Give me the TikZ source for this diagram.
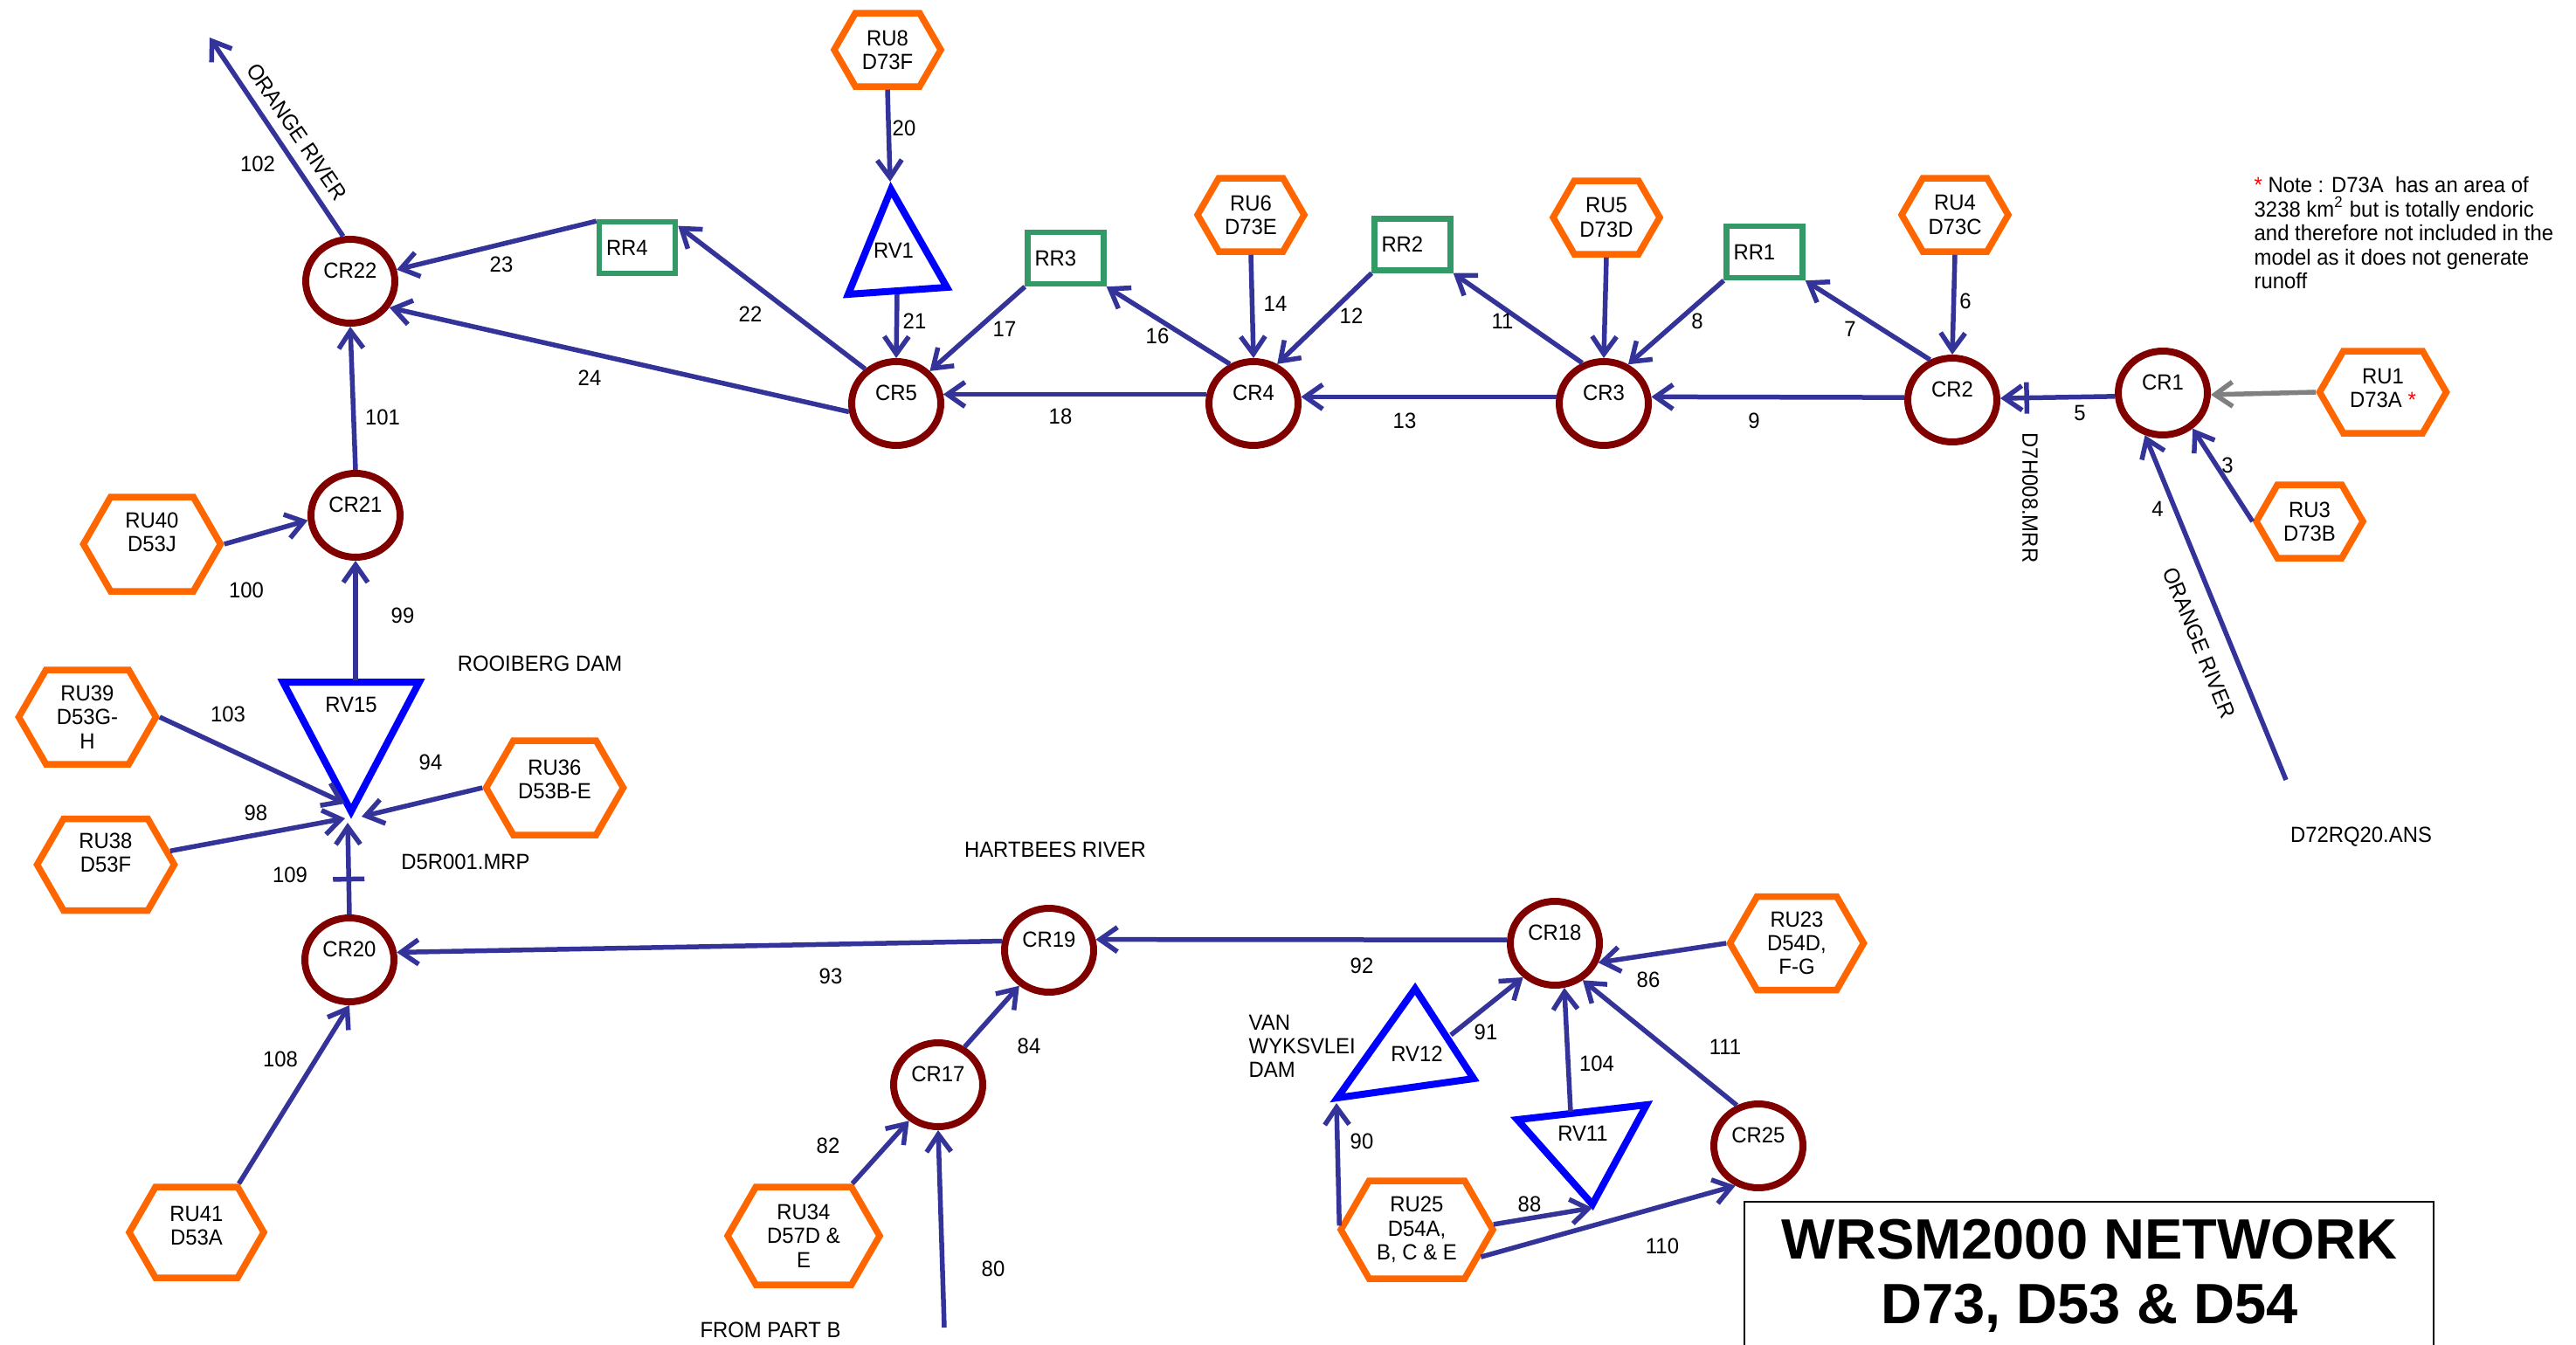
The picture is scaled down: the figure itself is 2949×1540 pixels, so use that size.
\documentclass[tikz,border=0pt]{standalone}
\usepackage{fontspec}
\setmainfont{Liberation Sans}[FakeStretch=0.95]
\newfontfamily\titlefont{Liberation Sans}
\usetikzlibrary{arrows.meta,shapes.symbols,shapes.geometric}
\definecolor{conn}{RGB}{51,51,153}
\definecolor{crred}{RGB}{128,0,0}
\definecolor{hexor}{RGB}{255,102,0}
\definecolor{rrgreen}{RGB}{51,153,102}
\definecolor{rvblue}{RGB}{0,0,255}
\definecolor{grayarr}{RGB}{128,128,128}
\begin{document}
\begin{tikzpicture}[x=0.1mm,y=-0.1mm,
  every node/.style={font=\fontsize{7.15}{7.75}\selectfont, inner sep=0pt},
  crnode/.style={ellipse, draw=crred, line width=0.8mm, minimum width=10.2mm, minimum height=9.6mm, text height=1.8mm, text depth=2.44mm},
  rrbox/.style={rectangle, draw=rrgreen, line width=0.65mm, minimum height=5.9mm, text width=7.1mm, inner xsep=0.8mm, align=left},
  hexa/.style={signal, signal to=east and west, signal pointer angle=120, draw=hexor, line width=0.75mm, align=center, minimum width=12.2mm, minimum height=8.4mm},
  hexbig/.style={hexa, minimum width=15.7mm, minimum height=10.8mm},
  hexwide/.style={hexa, minimum width=17.4mm, minimum height=11.2mm},
  flow/.style={draw=conn, line width=0.55mm, -{Straight Barb[length=2mm,width=2.8mm]}},
  grayflow/.style={flow, draw=grayarr},
  rvtri/.style={draw=rvblue, line width=0.8mm, line join=miter},
  lbl/.style={},
  tick/.style={draw=conn, line width=0.55mm, shape=rectangle, minimum height=3.6mm, minimum width=0pt, inner sep=0pt, outer sep=0pt, sloped}
]
\useasboundingbox (0,0) rectangle (2949,1540);

% ---------- CR nodes ----------
\node[crnode] (cr22) at (401,322) {CR22};
\node[crnode] (cr5)  at (1026,462) {CR5};
\node[crnode] (cr4)  at (1435,462) {CR4};
\node[crnode] (cr3)  at (1836,462) {CR3};
\node[crnode] (cr2)  at (2235,458) {CR2};
\node[crnode] (cr1)  at (2476,450) {CR1};
\node[crnode] (cr21) at (407,590) {CR21};
\node[crnode] (cr20) at (400,1099) {CR20};
\node[crnode] (cr19) at (1201,1088) {CR19};
\node[crnode] (cr17) at (1074,1242) {CR17};
\node[crnode] (cr18) at (1780,1080) {CR18};
\node[crnode] (cr25) at (2013,1312) {CR25};

% ---------- RR boxes ----------
\node[rrbox] (rr4) at (729.5,283.5) {RR4};
\node[rrbox] (rr3) at (1220,295.5) {RR3};
\node[rrbox] (rr2) at (1617,280) {RR2};
\node[rrbox] (rr1) at (2020,288.5) {RR1};

% ---------- RU hexagons ----------
\node[hexa] (ru8) at (1016,57) {RU8\\D73F};
\node[hexa] (ru6) at (1432,246) {RU6\\D73E};
\node[hexa] (ru5) at (1839,249) {RU5\\D73D};
\node[hexa] (ru4) at (2238,246) {RU4\\D73C};
\node[hexa] (ru3) at (2644,597) {RU3\\D73B};
\node[hexa, minimum width=14.5mm, minimum height=9.4mm] (ru1) at (2728,449) {RU1\\D73A {\color{red}*}\\[-5pt]\mbox{}};
\node[hexbig] (ru40) at (174,623) {RU40\\D53J\\\mbox{}};
\node[hexbig] (ru39) at (100,821) {RU39\\D53G-\\H};
\node[hexbig] (ru36) at (635,902) {RU36\\D53B-E\\[-2pt]\mbox{}};
\node[hexbig, minimum height=10.5mm] (ru38) at (121,990) {RU38\\D53F\\\mbox{}};
\node[hexbig, minimum width=15.4mm, minimum height=10.4mm] (ru41) at (225,1411) {RU41\\D53A\\[-3.5pt]\mbox{}};
\node[hexwide] (ru34) at (920,1415) {RU34\\D57D \&\\E};
\node[hexwide] (ru25) at (1622,1408) {RU25\\D54A,\\B, C \& E};
\node[hexbig, minimum width=15.3mm, minimum height=10.7mm] (ru23) at (2057,1080) {RU23\\D54D,\\F-G};

% ---------- RV triangles ----------
\coordinate (rv1a) at (1020,217);
\coordinate (rv1b) at (971,337);
\coordinate (rv1c) at (1084,329);
\draw[rvtri] (rv1a) -- (rv1b) -- (rv1c) -- cycle;
\node (rv1) at (1023,287) {RV1};

\coordinate (rv15a) at (324,781);
\coordinate (rv15b) at (480,781);
\coordinate (rv15c) at (402,929);
\draw[rvtri] (rv15a) -- (rv15b) -- (rv15c) -- cycle;
\node (rv15) at (402,807) {RV15};

\coordinate (rv12a) at (1620,1132);
\coordinate (rv12b) at (1531,1257);
\coordinate (rv12c) at (1687,1235);
\draw[rvtri] (rv12a) -- (rv12b) -- (rv12c) -- cycle;
\node (rv12) at (1622,1207) {RV12};

\coordinate (rv11a) at (1737,1282);
\coordinate (rv11b) at (1885,1265);
\coordinate (rv11c) at (1823,1379);
\draw[rvtri] (rv11a) -- (rv11b) -- (rv11c) -- cycle;
\node (rv11) at (1812,1298) {RV11};

% connector end points on triangles / free ends
\coordinate (rv1tip) at (1019,208);
\coordinate (rv1bot) at (1027,337);
\coordinate (rv15top) at (407,779);
\coordinate (t103) at (395,920);
\coordinate (t98) at (395,937);
\coordinate (t94) at (414,935);
\coordinate (t109) at (398,942);
\coordinate (rv12out) at (1661,1185);
\coordinate (rv12in) at (1530,1263);
\coordinate (rv11top) at (1798,1273);
\coordinate (rv11tip) at (1823,1383);
\coordinate (orangeout) at (240,43);
\coordinate (d72) at (2617,893);
\coordinate (partb) at (1081,1520);

% ---------- connectors: upper network ----------
\draw[flow] (cr22.99) -- (orangeout);
\draw[flow] (rr4.147) -- (cr22.14);
\draw[flow] (cr5.190) -- (cr22.326);
\draw[flow] (cr5.132) -- (rr4.28);
\draw[flow] (ru8.south) -- (rv1tip);
\draw[flow] (rv1bot) -- (cr5.north);
\draw[flow] (rr3.south west) -- (cr5.44);
\draw[flow] (cr4.121) -- (rr3.south east);
\draw[flow] (ru6.south) -- (cr4.north);
\draw[flow] (cr4.169) -- (cr5.11);
\draw[flow] (rr2.south west) -- (cr4.59);
\draw[flow] (cr3.118) -- (rr2.south east);
\draw[flow] (ru5.south) -- (cr3.north);
\draw[flow] (rr1.south west) -- (cr3.58);
\draw[flow] (cr2.119) -- (rr1.south east);
\draw[flow] (cr3.172) -- (cr4.8);
\draw[flow] (ru4.south) -- (cr2.north);
\draw[flow] (cr2.177) -- (cr3.8);
\draw[flow] (cr1.184) -- node[tick,pos=0.77] (tk5) {} (cr2.2);
\draw[grayflow] (ru1.west) -- (cr1.358);
\draw[flow] (ru3.west) -- (cr1.310);
\draw[flow] (d72) -- (cr1.247);

% ---------- connectors: lower network ----------
\draw[flow] (cr21.north) -- (cr22.south);
\draw[flow] (ru40.east) -- (cr21.186);
\draw[flow] (rv15top) -- (cr21.south);
\draw[flow] (ru39.east) -- (t103);
\draw[flow] (ru38.12) -- (t98);
\draw[flow] (ru36.west) -- (t94);
\draw[flow] (cr20.north) -- node[tick,pos=0.385] (tk109) {} (t109);
\draw[flow] (ru41.49) -- (cr20.south);
\draw[flow] (cr19.169) -- (cr20.9);
\draw[flow] (cr17.55) -- (cr19.230);
\draw[flow] (ru34.47) -- (cr17.231);
\draw[flow] (partb) -- (cr17.south);
\draw[flow] (cr18.176) -- (cr19.13);
\draw[flow] (ru23.west) -- (cr18.336);
\draw[flow] (rv12out) -- (cr18.227);
\draw[flow] (ru25.177) -- (rv12in);
\draw[flow] (rv11top) -- (cr18.282);
\draw[flow] (ru25.4) -- (rv11tip);
\draw[flow] (ru25.337) -- (cr25.240);
\draw[flow] (cr25.118) -- (cr18.307);

% ---------- link numbers ----------
\node[lbl] (l102) at (295,188) {102};
\node[lbl] (l23) at (574,303) {23};
\node[lbl] (l24) at (675,433) {24};
\node[lbl] (l101) at (438,478) {101};
\node[lbl] (l22) at (859,360) {22};
\node[lbl] (l20) at (1035,147) {20};
\node[lbl] (l21) at (1047,368) {21};
\node[lbl] (l17) at (1150,377) {17};
\node[lbl] (l16) at (1325,385) {16};
\node[lbl] (l14) at (1460,348) {14};
\node[lbl] (l18) at (1214,477) {18};
\node[lbl] (l12) at (1547,362) {12};
\node[lbl] (l11) at (1720,368) {11};
\node[lbl] (l13) at (1608,482) {13};
\node[lbl] (l8) at (1943,368) {8};
\node[lbl] (l7) at (2118,377) {7};
\node[lbl] (l9) at (2008,482) {9};
\node[lbl] (l6) at (2250,345) {6};
\node[lbl] (l5) at (2381,473) {5};
\node[lbl] (l3) at (2550,533) {3};
\node[lbl] (l4) at (2470,583) {4};
\node[lbl] (l100) at (282,676) {100};
\node[lbl] (l99) at (461,705) {99};
\node[lbl] (l103) at (261,818) {103};
\node[lbl] (l94) at (493,873) {94};
\node[lbl] (l98) at (293,931) {98};
\node[lbl] (l109) at (332,1002) {109};
\node[lbl] (l108) at (321,1213) {108};
\node[lbl] (l93) at (951,1118) {93};
\node[lbl] (l84) at (1178,1198) {84};
\node[lbl] (l82) at (948,1312) {82};
\node[lbl] (l80) at (1137,1453) {80};
\node[lbl] (l92) at (1559,1106) {92};
\node[lbl] (l86) at (1887,1122) {86};
\node[lbl] (l91) at (1701,1182) {91};
\node[lbl] (l90) at (1559,1307) {90};
\node[lbl] (l104) at (1828,1218) {104};
\node[lbl] (l111) at (1975,1199) {111};
\node[lbl] (l88) at (1751,1379) {88};
\node[lbl] (l110) at (1903,1427) {110};

% ---------- other texts ----------
\node[rotate=-55.5] (orangetop) at (340,151) {ORANGE RIVER};
\node[rotate=-68] (orangeright) at (2518,736) {ORANGE RIVER};
\node[rotate=-90] (d7h) at (2324,570) {D7H008.MRR};
\node (d72txt) at (2703,958) {D72RQ20.ANS};
\node (rooiberg) at (618,760) {ROOIBERG DAM};
\node (d5r) at (533,987) {D5R001.MRP};
\node (hartbees) at (1208,973) {HARTBEES RIVER};
\node (frompartb) at (882,1523) {FROM PART B};
\node[anchor=west, align=left] (vanwyk) at (1429,1198) {VAN\\WYKSVLEI\\DAM};
\node[anchor=north west, align=left, font=\fontsize{7.15}{7.8}\selectfont] (note) at (2580,202)
  {{\color{red}*} Note : D73A\ \ has an area of\\3238 km\textsuperscript{2} but is totally endoric\\and therefore not included in the\\model as it does not generate\\runoff};

% ---------- title ----------
\node[draw=black, line width=0.5pt, minimum width=78.9mm, minimum height=19mm] (tbox) at (2391.5,1471) {};
\node[align=center, font=\titlefont\bfseries\fontsize{18.5}{21}\selectfont] (title) at (2392,1461) {WRSM2000 NETWORK\\D73, D53 \& D54};
\end{tikzpicture}
\end{document}
